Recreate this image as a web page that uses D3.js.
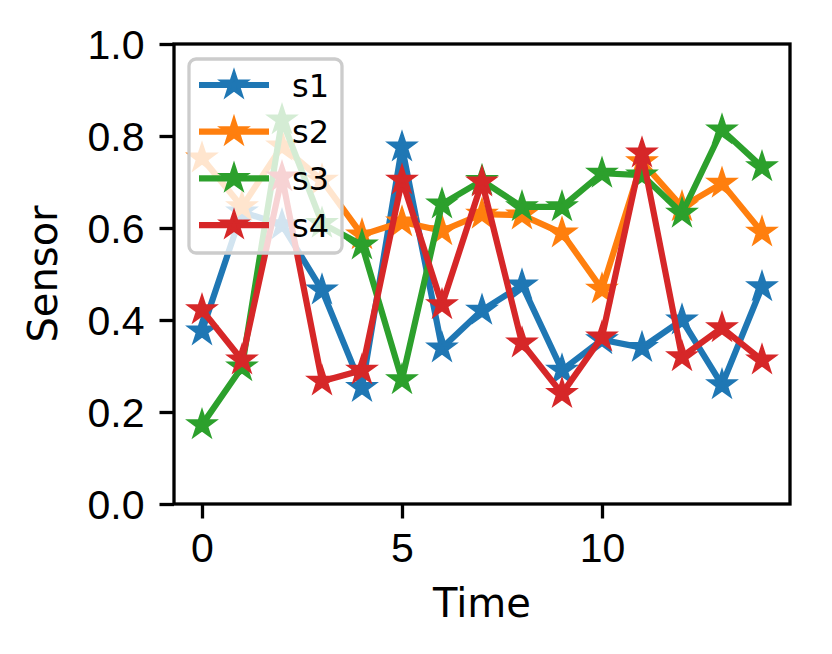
<!DOCTYPE html>
<html>
<head>
<meta charset="utf-8">
<script src="https://cdn.jsdelivr.net/npm/d3@7"></script>
<style>
  body { margin: 0; background: #fff; }
  svg { font-family: "DejaVu Sans", sans-serif; }
</style>
</head>
<body>
<svg width="832" height="654"></svg>
<script>
// data
var time = [0,1,2,3,4,5,6,7,8,9,10,11,12,13,14];
var s1 = [0.376,0.635,0.607,0.465,0.253,0.776,0.339,0.421,0.476,0.291,0.357,0.340,0.400,0.259,0.472];
var s2 = [0.752,0.646,0.778,0.704,0.585,0.613,0.594,0.630,0.628,0.589,0.467,0.744,0.646,0.697,0.591];
var s3 = [0.172,0.298,0.835,0.610,0.563,0.270,0.652,0.703,0.646,0.646,0.719,0.715,0.632,0.813,0.733];
var s4 = [0.422,0.313,0.711,0.267,0.291,0.704,0.433,0.700,0.350,0.240,0.363,0.763,0.320,0.383,0.313];
var names = ["s1","s2","s3","s4"];
var colors = ["#1f77b4","#ff7f0e","#2ca02c","#d62728"];
var yTicks = [0.0,0.2,0.4,0.6,0.8,1.0];
var xTicks = [0,5,10];

var series = [s1,s2,s3,s4];

var svg = d3.select("svg");
var pLeft = 174, pRight = 790, pTop = 44, pBottom = 504;

var x = d3.scaleLinear().domain([-0.7,14.7]).range([pLeft,pRight]);
var y = d3.scaleLinear().domain([0,1]).range([pBottom,pTop]);

// matplotlib-like star marker
function star(r){
    var pts = [];
    for (var i=0;i<10;i++){
        var a = -Math.PI/2 + i*Math.PI/5;
        var rr = (i%2==0) ? r : r*0.381966;
        pts.push([rr*Math.cos(a), rr*Math.sin(a)]);
    }
    return "M" + pts.map(function(p){return p[0].toFixed(2)+","+p[1].toFixed(2);}).join("L") + "Z";
}

var line = d3.line()
    .x(function(d,i){return x(time[i]);})
    .y(function(d){return y(d);});

var g = svg.append("g");

series.forEach(function(s,k){
    g.append("path")
        .attr("d", line(s))
        .attr("fill","none")
        .attr("stroke",colors[k])
        .attr("stroke-width",6.2)
        .attr("stroke-linejoin","round")
        .attr("stroke-linecap","square");
    g.selectAll(".m"+k).data(s).enter().append("path")
        .attr("class","m"+k)
        .attr("d", star(12))
        .attr("transform", function(d,i){return "translate("+x(time[i])+","+y(d)+")";})
        .attr("fill",colors[k])
        .attr("stroke",colors[k])
        .attr("stroke-width",3.6)
        .attr("stroke-linejoin","miter");
});

// axes
var yAxis = d3.axisLeft(y).tickValues(yTicks).tickSize(14.5).tickPadding(15)
    .tickFormat(d3.format(".1f"));
var xAxis = d3.axisBottom(x).tickValues(xTicks).tickSize(14.5).tickPadding(14)
    .tickFormat(d3.format("d"));

var ya = svg.append("g").attr("transform","translate("+pLeft+",0)").call(yAxis);
var xa = svg.append("g").attr("transform","translate(0,"+pBottom+")").call(xAxis);
[ya,xa].forEach(function(a){
    a.select(".domain").remove();
    a.selectAll(".tick line").attr("stroke","#000").attr("stroke-width",3.3);
    a.selectAll(".tick text").attr("fill","#000").style("font-size","41px");
});
xa.selectAll(".tick text").attr("dy","0.71em");
ya.selectAll(".tick text").attr("dy","0.36em");

// spines
svg.append("rect")
    .attr("x",pLeft).attr("y",pTop)
    .attr("width",pRight-pLeft).attr("height",pBottom-pTop)
    .attr("fill","none").attr("stroke","#000").attr("stroke-width",3.3);

svg.append("text")
    .attr("x",(pLeft+pRight)/2).attr("y",617)
    .attr("text-anchor","middle")
    .style("font-size","40px")
    .text("Time");

svg.append("text")
    .attr("transform","translate(57,"+((pTop+pBottom)/2)+") rotate(-90)")
    .attr("text-anchor","middle")
    .style("font-size","40px")
    .text("Sensor");

// legend
var lg = svg.append("g");
lg.append("rect")
    .attr("x",189).attr("y",59).attr("width",153).attr("height",194)
    .attr("rx",7)
    .attr("fill","#fff").attr("fill-opacity",0.8)
    .attr("stroke","#cccccc").attr("stroke-width",3.3);

names.forEach(function(n,k){
    var ly = 85 + k*46.7;
    lg.append("line")
        .attr("x1",199).attr("x2",269).attr("y1",ly).attr("y2",ly)
        .attr("stroke",colors[k]).attr("stroke-width",6.2);
    lg.append("path")
        .attr("d",star(12))
        .attr("transform","translate(234,"+ly+")")
        .attr("fill",colors[k]).attr("stroke",colors[k]).attr("stroke-width",3.6);
    lg.append("text")
        .attr("x",292).attr("y",ly).attr("dy","0.36em")
        .style("font-size","32px")
        .text(n);
});
</script>
</body>
</html>
